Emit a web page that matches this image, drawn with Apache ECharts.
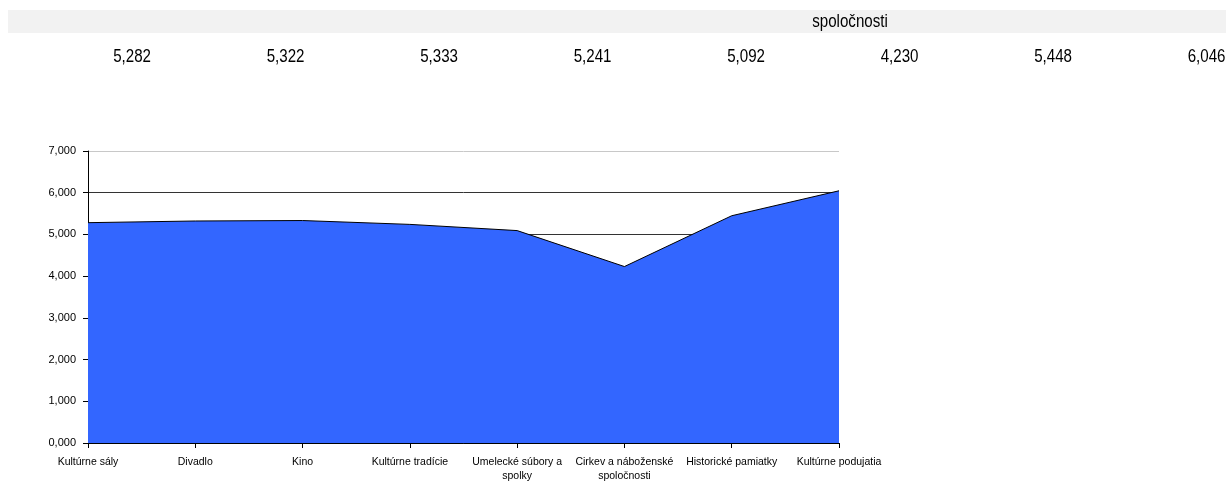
<!DOCTYPE html>
<html lang="sk">
<head>
    <meta charset="UTF-8">
    <title>Kultúra</title>
    <script src="https://cdn.jsdelivr.net/npm/echarts@6/dist/echarts.min.js"></script>
    <style>
        body { margin: 0; background: #fff; }
    </style>
</head>
<body>
<div id="areaDemo" style="width: 1226px;height: 483px"></div>

<script>
    var categories = ['Kultúrne sály', 'Divadlo', 'Kino', 'Kultúrne tradície',
        'Umelecké súbory a\nspolky', 'Cirkev a náboženské\nspoločnosti', 'Historické pamiatky', 'Kultúrne podujatia'];
    var values = [5.282, 5.322, 5.333, 5.241, 5.092, 4.230, 5.448, 6.046];
    var headerText = 'spoločnosti';

    function fmt(v) {
        return v.toFixed(3).replace('.', ',');
    }

    var chartDom = document.getElementById('areaDemo');
    var myChart = echarts.init(chartDom);
    var font = '"Liberation Sans", Arial, sans-serif';

    // table row above the chart (narrow look via scaleX)
    var graphics = [
        { type: 'rect', shape: { x: 8, y: 10, width: 1218, height: 23 }, style: { fill: '#f2f2f2' } },
        { type: 'text', x: 850, y: 22, scaleX: 0.84, style: { text: headerText, font: '18px ' + font, fill: '#000', align: 'center', verticalAlign: 'middle' } }
    ];
    values.forEach(function (v, i) {
        graphics.push({
            type: 'text', x: 151 + i * 153.5, y: 57, scaleX: 0.84,
            style: { text: fmt(v), font: '18px ' + font, fill: '#000', align: 'right', verticalAlign: 'middle' }
        });
    });

    var option = {
        animation: false,
        graphic: graphics,
        grid: { left: 88, right: 387, top: 151, bottom: 40 },
        xAxis: {
            type: 'category',
            boundaryGap: false,
            data: categories,
            axisLine: { lineStyle: { color: '#000', width: 1 } },
            axisTick: { show: true, length: 5, lineStyle: { color: '#000' } },
            axisLabel: { color: '#000', fontSize: 10.5, fontFamily: font, margin: 12, interval: 0, lineHeight: 14 }
        },
        yAxis: {
            type: 'value',
            min: 0,
            max: 7,
            interval: 1,
            axisLine: { show: true, lineStyle: { color: '#000', width: 1 } },
            axisTick: { show: true, length: 5, lineStyle: { color: '#000' } },
            axisLabel: { color: '#000', fontSize: 11, fontFamily: font, margin: 12, formatter: fmt },
            splitLine: { show: true, lineStyle: { color: ['#000', '#000', '#000', '#000', '#000', '#333', '#333', '#c8c8c8'], width: 1 } }
        },
        series: [
            {
                name: 'Kultúra',
                type: 'line',
                symbol: 'none',
                lineStyle: { color: '#000', width: 1 },
                areaStyle: { color: '#3366ff', opacity: 1 },
                data: values
            }
        ]
    };
    myChart.setOption(option);
</script>
</body>
</html>
